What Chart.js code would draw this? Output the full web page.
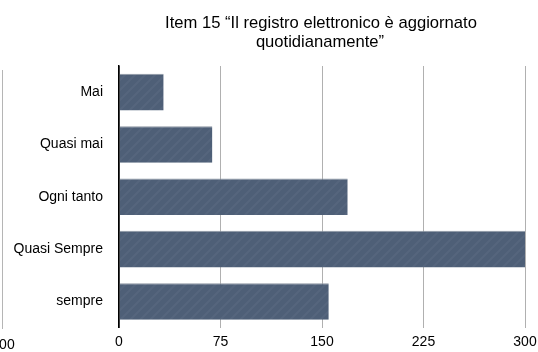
<!DOCTYPE html>
<html><head><meta charset="utf-8">
<script src="https://cdn.jsdelivr.net/npm/chart.js@4/dist/chart.umd.min.js"></script>
<style>html,body{margin:0;padding:0;background:#fff}#wrap{width:538px;height:352px}</style>
</head><body><div id="wrap"><canvas id="c" width="538" height="352"></canvas></div>
<script>
const categories = ["Mai", "Quasi mai", "Ogni tanto", "Quasi Sempre", "sempre"];
const counts = [33, 69, 169, 300, 155];
const xTicks = [0, 75, 150, 225, 300];
const titleLines = ["Item 15 \u201cIl registro elettronico \u00e8 aggiornato", "quotidianamente\u201d"];

function makePattern() {
  const p = document.createElement('canvas');
  p.width = 10; p.height = 10;
  const g = p.getContext('2d');
  g.fillStyle = '#4e5f77';
  g.fillRect(0, 0, 10, 10);
  g.strokeStyle = 'rgba(120,135,155,0.18)';
  g.lineWidth = 2;
  g.beginPath();
  g.moveTo(-2, 12); g.lineTo(12, -2);
  g.moveTo(-7, 7); g.lineTo(7, -7);
  g.moveTo(3, 17); g.lineTo(17, 3);
  g.stroke();
  return document.getElementById('c').getContext('2d').createPattern(p, 'repeat');
}

const decor = {
  id: 'decor',
  afterDraw(chart) {
    const ctx = chart.ctx;
    ctx.save();
    ctx.fillStyle = '#000';
    ctx.font = '16.6px "Liberation Sans", Arial, sans-serif';
    ctx.textAlign = 'center';
    ctx.textBaseline = 'alphabetic';
    ctx.fillText(titleLines[0], 321, 28);
    ctx.fillText(titleLines[1], 320, 47);
    // remnant of neighbouring chart on the left edge
    ctx.strokeStyle = '#b5b5b5';
    ctx.lineWidth = 1;
    ctx.beginPath();
    ctx.moveTo(2.5, 70); ctx.lineTo(2.5, 329);
    ctx.stroke();
    ctx.font = '14px "Liberation Sans", Arial, sans-serif';
    ctx.fillText('300', 3, 349);
    ctx.restore();
  }
};

new Chart(document.getElementById('c'), {
  type: 'bar',
  data: {
    labels: categories,
    datasets: [{
      data: counts,
      backgroundColor: makePattern(),
      borderColor: '#8d96a2',
      borderWidth: {top: 1, right: 0, bottom: 0, left: 0},
      borderSkipped: false,
      barPercentage: 0.7,
      categoryPercentage: 1.0
    }]
  },
  options: {
    indexAxis: 'y',
    responsive: false,
    animation: false,
    layout: {padding: {top: 66, right: 13, left: 0, bottom: 0}},
    plugins: {legend: {display: false}, title: {display: false}, tooltip: {enabled: false}},
    scales: {
      x: {
        min: 0, max: 300,
        afterBuildTicks(scale) { scale.ticks = xTicks.map(v => ({value: v})); },
        afterFit(scale) { scale.height = 22; scale.paddingRight = 0; scale.paddingLeft = 0; },
        grid: {
          color: ctx => (ctx.tick && ctx.tick.value === 0) ? '#000' : '#b0b0b0',
          lineWidth: ctx => (ctx.tick && ctx.tick.value === 0) ? 1.5 : 1,
          drawTicks: false
        },
        border: {display: false},
        ticks: {color: '#000', padding: 6, font: {size: 14, family: '"Liberation Sans", Arial, sans-serif'}, maxRotation: 0}
      },
      y: {
        afterFit(scale) { scale.width = 119; },
        grid: {display: false, drawTicks: false},
        border: {display: true, color: '#000', width: 1.5},
        ticks: {color: '#000', padding: 16, font: {size: 14, family: '"Liberation Sans", Arial, sans-serif'}}
      }
    }
  },
  plugins: [decor]
});
</script>
</body></html>
